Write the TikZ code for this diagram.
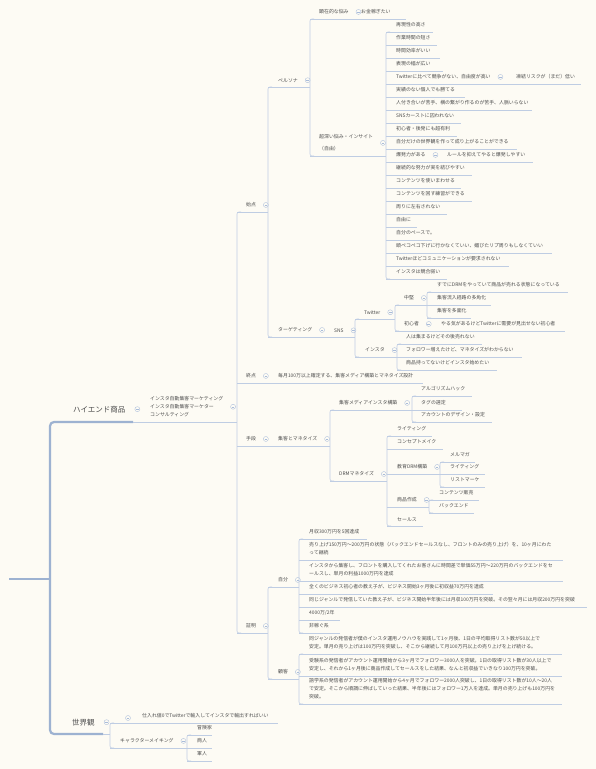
\documentclass[tikz,border=0pt]{standalone}
\usepackage{fontspec}
\setmainfont{Noto Sans CJK JP}
\usetikzlibrary{positioning}

\definecolor{bgc}{HTML}{FDFBF4}
\definecolor{linec}{HTML}{BFCDE3}
\definecolor{trunkc}{HTML}{9DB2D1}
\definecolor{txtc}{HTML}{4D4D4D}
\definecolor{foldc}{HTML}{A9BCDA}

% text node with its underline: name, bar x, text x, underline y, end x, text
\newcommand{\mmnode}[6]{%
  \node[mmtext] (#1) at (#3,#4-4.6) {#6};
  \coordinate (#1-s) at (#2,#4);
  \draw[branch] (#1-s) -- (#5,#4);}
% elbow bar from first child to last child
\newcommand{\mmbar}[2]{\draw[branch, rounded corners=2pt] ([xshift=4pt]#1-s) -- (#1-s) -- (#2-s) -- ([xshift=4pt]#2-s);}
% fold mark behind a parent
\newcommand{\mmfold}[2][7pt]{\node[fold, right=#1 of #2] (#2-f) {};}

\begin{document}
\begin{tikzpicture}[x=1pt, y=-1pt,
  branch/.style={draw=linec, line width=0.6pt},
  trunk/.style={draw=trunkc, line width=2.2pt},
  mmtext/.style={anchor=south west, inner sep=0pt, align=left, text=txtc, font=\fontsize{4.9}{8.2}\selectfont},
  toptext/.style={anchor=base west, inner sep=0pt, text=txtc, font=\fontsize{7.5}{9}\selectfont},
  fold/.style={circle, draw=foldc, fill=bgc, line width=0.35pt, minimum size=5pt, inner sep=0pt,
    path picture={\draw[foldc, line width=0.35pt] ([xshift=1.2pt]path picture bounding box.west) -- ([xshift=-1.2pt]path picture bounding box.east);}}]
  \useasboundingbox[fill=bgc] (0,0) rectangle (596,769);

  % root and trunk
  \coordinate (root) at (9,579);
  \coordinate (trunk) at (50,579);
  \coordinate (high-u) at (133,422);
  \coordinate (world-u) at (103,734);
  \draw[trunk] (root) -- (trunk);
  \draw[trunk, rounded corners=4pt] (high-u) -| (trunk) |- (world-u);
  \node[toptext] (high) at (73,412) {ハイエンド商品};
  \node[toptext] (world) at (72,725) {世界観};
  \mmfold[9pt]{high}
  \mmfold[9pt]{world}

  \mmnode{hdesc}{133}{150}{422}{237}{インスタ自動集客マーケティング\\インスタ自動集客マーケター\\コンサルティング}
  \mmfold{hdesc}

  % start / goal / means / proof
  \mmnode{start}{237}{246}{212}{268}{始点}
  \mmnode{goal}{237}{246}{383}{268}{終点}
  \mmnode{means}{237}{246}{446}{268}{手段}
  \mmnode{proof}{237}{246}{633}{268}{証明}
  \mmbar{start}{proof}
  \mmfold{start}
  \mmfold{goal}
  \mmfold{means}
  \mmfold{proof}

  % persona
  \mmnode{persona}{268}{278}{87}{310}{ペルソナ}
  \mmnode{target}{268}{278}{337}{326}{ターゲティング}
  \mmbar{persona}{target}
  \mmfold{persona}
  \mmfold{target}

  \mmnode{overt}{310}{319}{19}{356}{顕在的な悩み}
  \mmnode{money}{356}{361}{19}{406}{お金稼ぎたい}
  \mmnode{latent}{310}{319}{156}{386}{超深い悩み・インサイト\\[3.8pt]（自由）}
  \mmbar{overt}{latent}
  \mmfold{overt}
  \mmfold{latent}

  \foreach \t/\e [count=\i] in {再現性の高さ/433, 作業時間の短さ/437, 時間効率がいい/440, 表現の幅が広い/443,
      Twitterに比べて競争がない、自由度が高い/508, 実績のない個人でも勝てる/465,
      人付き合いが苦手、横の繋がり作るのが苦手、人脈いらない/532, SNSカーストに囚われない/461,
      初心者・後発にも超有利/457, 自分だけの世界観を作って成り上がることができる/517,
      爆発力がある/440, 継続的な努力が実を結びやすい/472, コンテンツを使いまわせる/461,
      コンテンツを回す練習ができる/472, 周りに左右されない/447, 自由に/417, 自分のペースで。/432,
      頭ペコペコ下げに行かなくていい、媚びたリプ周りもしなくていい/552,
      Twitterほどコミュニケーションが要求されない/509, インスタは競合弱い/447}
    {\pgfmathsetmacro\uy{32+13*(\i-1)}
     \mmnode{ins\i}{386}{396}{\uy}{\e}{\t}}
  \mmbar{ins1}{ins20}
  \mmnode{freeze}{508}{516}{84}{581}{凍結リスクが（まだ）低い}
  \mmnode{rule}{440}{447}{162}{533}{ルールを抑えてやると爆発しやすい}
  \mmfold{ins5}
  \mmfold{ins11}

  % targeting
  \mmnode{sns}{326}{334}{337}{355}{SNS}
  \mmfold{sns}
  \mmnode{tw}{355}{364}{319}{395}{Twitter}
  \mmnode{ig}{355}{365}{357}{397}{インスタ}
  \mmbar{tw}{ig}
  \mmfold{tw}
  \mmfold{ig}
  \mmnode{mid}{395}{404}{305}{427}{中堅}
  \mmnode{newbie}{395}{404}{331}{436}{初心者}
  \mmbar{mid}{newbie}
  \mmfold{mid}
  \mmfold{newbie}
  \mmnode{mid1}{427}{437}{292}{568}{すでにDRMをやっていて商品が売れる状態になっている}
  \mmnode{mid2}{427}{437}{305}{491}{集客流入経路の多角化}
  \mmnode{mid3}{427}{437}{318}{471}{集客を多面化}
  \mmbar{mid1}{mid3}
  \mmnode{newbie1}{436}{441}{331}{565}{やる気があるけどTwitterに需要が見出せない初心者}
  \mmnode{ig1}{397}{406}{344}{482}{人は集まるけどその後売れない}
  \mmnode{ig2}{397}{406}{357}{522}{フォロワー増えたけど、マネタイズがわからない}
  \mmnode{ig3}{397}{406}{370}{497}{商品持ってないけどインスタ始めたい}
  \mmbar{ig1}{ig3}

  % goal
  \mmnode{goal1}{268}{278}{383}{423}{毎月100万以上確定する、集客メディア構築とマネタイズ設計}

  % means
  \mmnode{means1}{268}{278}{446}{330}{集客とマネタイズ}
  \mmfold{means1}
  \mmnode{media}{330}{339}{410}{412}{集客メディアインスタ構築}
  \mmnode{drm}{330}{339}{481}{387}{DRMマネタイズ}
  \mmbar{media}{drm}
  \mmfold{media}
  \mmfold{drm}
  \mmnode{media1}{412}{421}{396}{472}{アルゴリズムハック}
  \mmnode{media2}{412}{421}{410}{462}{タグの選定}
  \mmnode{media3}{412}{421}{422}{492}{アカウントのデザイン・設定}
  \mmbar{media1}{media3}
  \mmnode{drm1}{387}{397}{436}{432}{ライティング}
  \mmnode{drm2}{387}{397}{449}{443}{コンセプトメイク}
  \mmnode{drm3}{387}{397}{474}{440}{教育DRM構築}
  \mmnode{drm4}{387}{397}{507}{429}{商品作成}
  \mmnode{drm5}{387}{397}{526}{423}{セールス}
  \mmbar{drm1}{drm5}
  \mmfold{drm3}
  \mmfold{drm4}
  \mmnode{edu1}{440}{450}{462}{475}{メルマガ}
  \mmnode{edu2}{440}{450}{474}{485}{ライティング}
  \mmnode{edu3}{440}{450}{487}{485}{リストマーケ}
  \mmbar{edu1}{edu3}
  \mmnode{prod1}{429}{439}{500}{479}{コンテンツ販売}
  \mmnode{prod2}{429}{439}{513}{474}{バックエンド}
  \mmbar{prod1}{prod2}

  % proof
  \mmnode{self}{268}{278}{587}{299}{自分}
  \mmnode{client}{268}{278}{679}{299}{顧客}
  \mmbar{self}{client}
  \mmfold{self}
  \mmfold{client}
  \mmnode{s1}{299}{309}{539}{367}{月収300万円を5回達成}
  \mmnode{s2}{299}{309}{560}{563}{売り上げ150万円〜200万円の状態（バックエンドセールスなし、フロントのみの売り上げ）を、10ヶ月にわた\\って継続}
  \mmnode{s3}{299}{309}{581}{563}{インスタから集客し、フロントを購入してくれたお客さんに時間差で単価55万円〜220万円のバックエンドをセ\\ールスし、単月の利益1000万円を達成}
  \mmnode{s4}{299}{309}{594}{493}{全くのビジネス初心者の教え子が、ビジネス開始3ヶ月後に初収益70万円を達成}
  \mmnode{s5}{299}{309}{607}{587}{同じジャンルで発信していた教え子が、ビジネス開始半年後には月収100万円を突破。その翌々月には月収200万円を突破}
  \mmnode{s6}{299}{309}{620}{340}{4000万/2年}
  \mmnode{s7}{299}{309}{633}{340}{非稼ぐ系}
  \mmbar{s1}{s7}
  \mmnode{c1}{299}{309}{654}{562}{同ジャンルの発信者が僕のインスタ運用ノウハウを実践して1ヶ月後、1日の平均取得リスト数が50以上で\\安定。単月の売り上げは100万円を突破し、そこから継続して月100万円以上の売り上げを上げ続ける。}
  \mmnode{c2}{299}{309}{676}{562}{受験系の発信者がアカウント運用開始から3ヶ月でフォロワー3000人を突破。1日の取得リスト数が30人以上で\\安定し、それから1ヶ月後に商品作成してセールスをした結果、なんと初収益でいきなり100万円を突破。}
  \mmnode{c3}{299}{309}{704}{562}{語学系の発信者がアカウント運用開始から4ヶ月でフォロワー2000人突破し、1日の取得リスト数が10人〜20人\\で安定。そこから順調に伸ばしていった結果、半年後にはフォロワー1万人を達成。単月の売り上げも100万円を\\突破。}
  \mmbar{c1}{c3}

  % world view
  \coordinate (world-b) at (110,734);
  \draw[branch] (world-u) -- (world-b);
  \mmnode{world1}{110}{142}{723}{278}{仕入れ値0でTwitterで輸入してインスタで輸出すればいい}
  \mmnode{chara}{110}{120}{748}{187}{キャラクターメイキング}
  \mmbar{world1}{chara}
  \node[fold] (world1-f) at (128,718) {};
  \mmfold{chara}
  \mmnode{ch1}{187}{197}{735}{212}{冒険家}
  \mmnode{ch2}{187}{197}{748}{212}{商人}
  \mmnode{ch3}{187}{197}{761}{212}{軍人}
  \mmbar{ch1}{ch3}
\end{tikzpicture}
\end{document}
